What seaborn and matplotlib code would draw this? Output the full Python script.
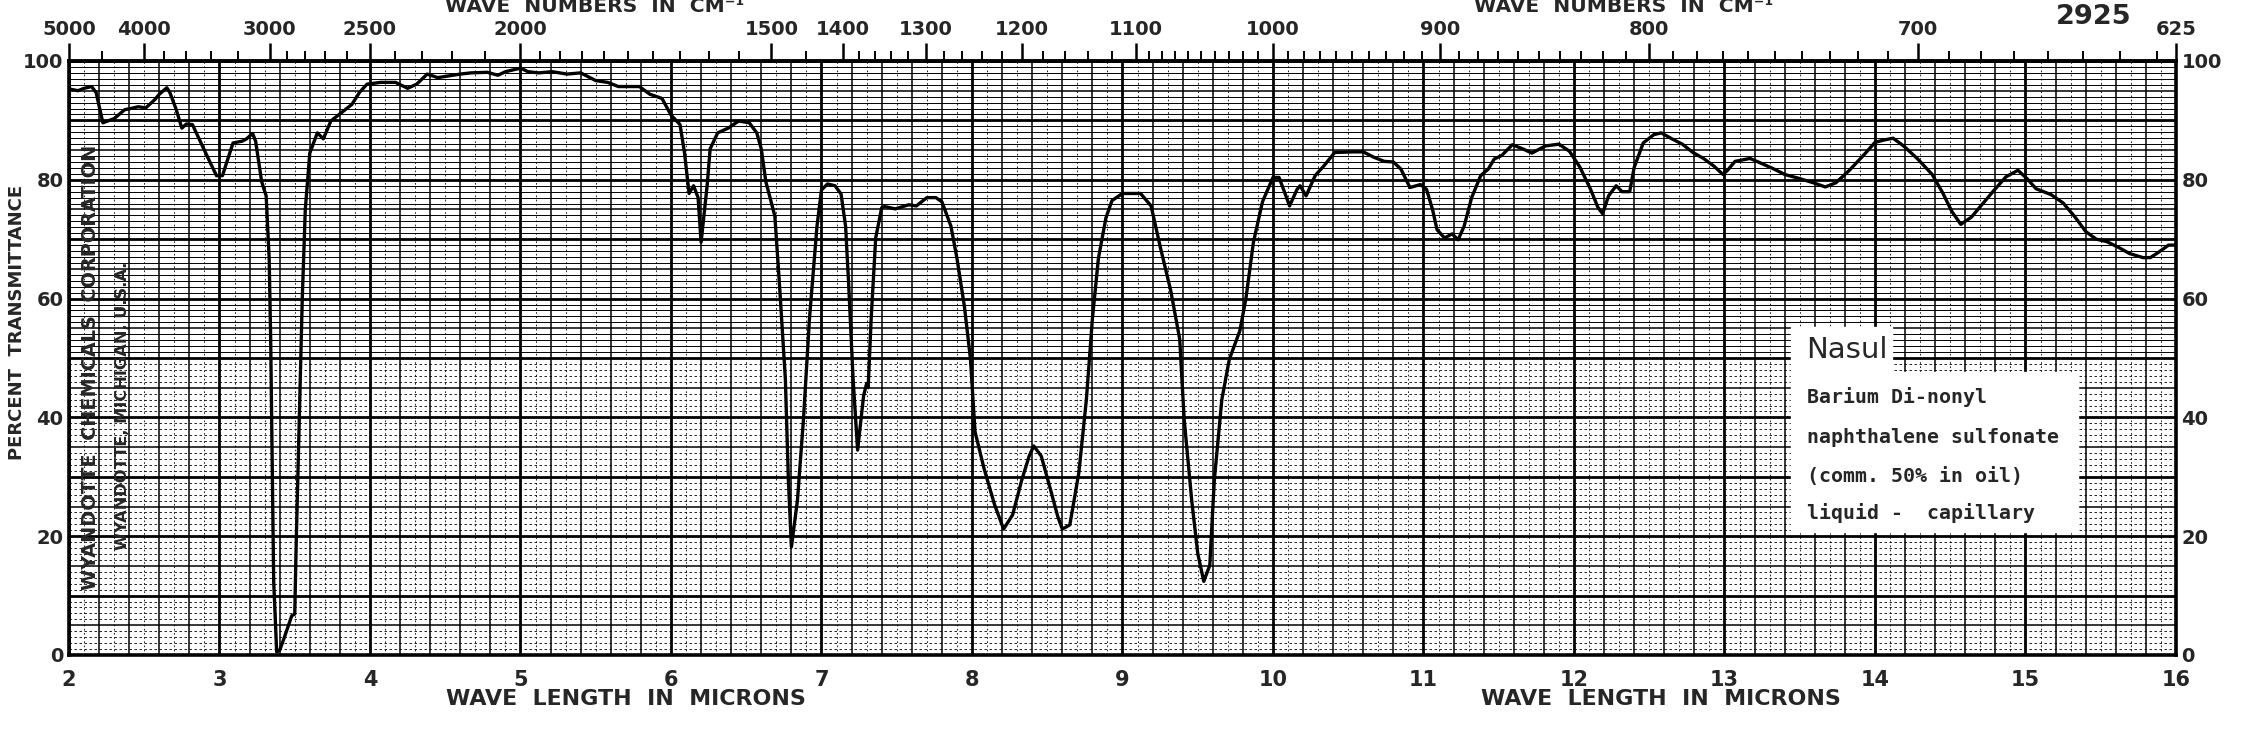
import numpy as np
import matplotlib
matplotlib.use('Agg')
import matplotlib.pyplot as plt
import matplotlib.transforms as mtransforms
import seaborn as sns

# spectrum: wavelength (microns) and percent transmittance
microns = [2.00, 2.06, 2.10, 2.15, 2.18, 2.225, 2.30, 2.37, 2.41, 2.46, 2.51, 2.57, 2.60, 2.65,
           2.67, 2.71, 2.75, 2.78, 2.82, 2.89, 2.94, 2.98, 3.02, 3.05, 3.09, 3.15, 3.18, 3.22,
           3.24, 3.28, 3.31, 3.33, 3.34, 3.35, 3.36, 3.38, 3.40, 3.43, 3.48, 3.50, 3.51, 3.53,
           3.55, 3.57, 3.60, 3.65, 3.69, 3.74, 3.81, 3.88, 3.93, 3.98, 4.07, 4.17, 4.25, 4.31,
           4.38, 4.45, 4.50, 4.60, 4.67, 4.78, 4.85, 4.90, 4.95, 5.00, 5.05, 5.12, 5.21, 5.31,
           5.40, 5.50, 5.58, 5.65, 5.79, 5.86, 5.94, 6.00, 6.06, 6.09, 6.12, 6.15, 6.18, 6.20,
           6.24, 6.26, 6.31, 6.38, 6.45, 6.52, 6.57, 6.60, 6.63, 6.69, 6.72, 6.76, 6.78, 6.80,
           6.84, 6.88, 6.92, 6.97, 7.00, 7.04, 7.09, 7.13, 7.16, 7.18, 7.21, 7.24, 7.28, 7.30,
           7.31, 7.33, 7.36, 7.40, 7.42, 7.49, 7.58, 7.63, 7.70, 7.76, 7.80, 7.86, 7.90, 7.95,
           7.99, 8.02, 8.08, 8.15, 8.21, 8.27, 8.33, 8.38, 8.41, 8.46, 8.52, 8.57, 8.60, 8.65,
           8.71, 8.76, 8.80, 8.84, 8.89, 8.93, 9.00, 9.12, 9.19, 9.25, 9.32, 9.38, 9.41, 9.46,
           9.50, 9.54, 9.58, 9.61, 9.66, 9.71, 9.78, 9.82, 9.87, 9.93, 10.00, 10.04, 10.08,
           10.11, 10.16, 10.18, 10.22, 10.28, 10.34, 10.41, 10.53, 10.60, 10.67, 10.74, 10.80,
           10.85, 10.91, 10.98, 11.02, 11.06, 11.09, 11.14, 11.19, 11.23, 11.27, 11.32, 11.38,
           11.43, 11.47, 11.52, 11.59, 11.66, 11.72, 11.81, 11.90, 11.97, 12.04, 12.11, 12.16,
           12.19, 12.23, 12.28, 12.32, 12.37, 12.40, 12.46, 12.53, 12.58, 12.65, 12.72, 12.79,
           12.86, 12.93, 12.99, 13.02, 13.07, 13.17, 13.26, 13.33, 13.40, 13.50, 13.59, 13.67,
           13.74, 13.83, 13.93, 14.00, 14.06, 14.12, 14.19, 14.28, 14.38, 14.45, 14.51, 14.57,
           14.64, 14.71, 14.79, 14.87, 14.95, 15.01, 15.07, 15.17, 15.25, 15.33, 15.40, 15.47,
           15.54, 15.62, 15.69, 15.78, 15.83, 15.89, 15.95, 16.00]
transmittance = [95.3, 95.0, 95.4, 95.7, 94.7, 89.6, 90.3, 91.8, 92.0, 92.3, 92.1, 93.5, 94.4, 95.5,
                 94.7, 92.0, 88.7, 89.4, 89.3, 85.5, 82.8, 80.7, 80.7, 83.1, 86.2, 86.5, 86.9, 87.8,
                 86.5, 79.7, 77.3, 66.8, 53.2, 32.8, 12.4, 0.5, 0.8, 2.9, 6.6, 6.9, 19.2, 39.6,
                 60.0, 75.0, 84.5, 87.9, 86.9, 89.9, 91.3, 92.7, 94.7, 96.1, 96.4, 96.4, 95.4, 96.1,
                 97.8, 97.2, 97.4, 97.8, 98.0, 98.1, 97.6, 98.2, 98.5, 98.8, 98.2, 98.0, 98.2, 97.8,
                 98.0, 96.7, 96.4, 95.7, 95.7, 94.4, 93.7, 90.9, 89.3, 84.5, 77.7, 79.0, 77.0, 69.5,
                 79.0, 85.2, 87.9, 88.7, 89.9, 89.6, 87.9, 85.2, 79.7, 73.9, 62.7, 46.4, 29.4, 18.2,
                 26.0, 39.6, 56.6, 72.2, 78.3, 79.3, 79.0, 77.6, 72.2, 62.7, 46.4, 34.5, 43.7, 45.7,
                 45.0, 56.6, 70.2, 75.3, 75.5, 75.1, 75.8, 75.6, 77.0, 77.0, 76.3, 72.2, 66.8, 58.6,
                 49.8, 37.6, 31.4, 25.3, 21.2, 23.6, 29.4, 33.5, 35.2, 33.5, 28.0, 23.3, 21.2, 21.9,
                 30.7, 43.0, 56.6, 66.8, 73.6, 76.5, 77.7, 77.7, 75.6, 68.8, 61.4, 53.2, 39.6, 26.0,
                 17.1, 12.4, 15.1, 29.4, 43.0, 49.8, 54.6, 60.0, 69.5, 76.3, 80.4, 80.4, 77.7,
                 75.6, 78.4, 79.0, 77.3, 80.7, 82.4, 84.6, 84.7, 84.7, 83.8, 83.1, 83.0,
                 81.8, 78.7, 79.2, 78.4, 75.0, 71.6, 70.2, 70.9, 69.9, 72.2, 77.0, 80.7,
                 81.8, 83.5, 84.1, 85.9, 85.2, 84.5, 85.7, 86.0, 84.8, 82.1, 78.4, 75.3,
                 74.3, 77.3, 79.0, 78.0, 78.0, 82.1, 86.2, 87.6, 87.9, 86.9, 86.0, 84.6,
                 83.6, 82.3, 80.9, 81.6, 83.1, 83.6, 82.6, 81.8, 80.9, 80.2, 79.5, 78.8,
                 79.5, 81.6, 84.3, 86.3, 86.7, 87.0, 85.7, 83.6, 80.9, 77.8, 74.7, 72.5,
                 73.7, 75.8, 78.2, 80.5, 81.6, 80.2, 78.5, 77.5, 76.1, 73.7, 71.3, 70.0,
                 69.6, 68.6, 67.6, 66.9, 66.9, 67.9, 69.0, 69.0]

micron_ticks = list(range(2, 17))
percent_ticks = list(range(0, 101, 10))
percent_labels = ['0', '', '20', '', '40', '', '60', '', '80', '', '100']
wavenumber_major = [5000, 4000, 3000, 2500, 2000, 1500, 1400, 1300, 1200, 1100, 1000, 900, 800, 700, 625]
wavenumber_minor = ([4500, 3800, 3600, 3400, 3200, 2900, 2800, 2700, 2600, 2400, 2300, 2200, 2100]
                    + list(range(1950, 1500, -50)) + [1450]
                    + list(range(1380, 1100, -20))
                    + [w for w in range(1090, 625, -10) if w not in (1000, 900, 800, 700)])

sample_name = 'Nasul'
sample_notes = ['Barium Di-nonyl', 'naphthalene sulfonate', '(comm. 50% in oil)', 'liquid -  capillary']

sns.set_theme(style='white')
plt.rcParams['font.family'] = ['DejaVu Sans']
plt.rcParams['font.weight'] = 'bold'

W, H = 2258, 739
fig = plt.figure(figsize=(W / 100, H / 100), dpi=100)
ax = fig.add_axes([69 / W, 1 - 655 / H, (2176 - 69) / W, (655 - 61) / H])

sns.lineplot(x=microns, y=transmittance, ax=ax, color='black', linewidth=2.4,
             sort=False, estimator=None, zorder=5)

ax.set_xlim(2, 16)
ax.set_ylim(0, 100)
ax.set_xlabel('')
ax.set_ylabel('')

# chart paper grid
ax.set_xticks(micron_ticks)
ax.set_xticklabels([str(m) for m in micron_ticks])
ax.set_xticks(np.arange(2, 16.01, 0.2), minor=True)
ax.set_yticks(percent_ticks)
ax.set_yticklabels(percent_labels)
ax.set_yticks(range(0, 101, 5), minor=True)
ax.grid(which='major', color='black', linewidth=2.0)
ax.grid(which='minor', color='black', linewidth=1.1)
fine_x = [v for v in np.arange(2.1, 16, 0.2)]
ax.vlines(fine_x, 0, 100, colors='black', linewidth=0.6, linestyles=(0, (2, 3)), zorder=1)
upper = [v for v in range(51, 100) if v % 5]
lower = [v for v in range(1, 50) if v % 5]
ax.hlines(upper, 2, 16, colors='black', linewidth=0.7, zorder=1)
ax.hlines(lower, 2, 16, colors='black', linewidth=0.6, linestyles=(0, (3, 3)), zorder=1)

for s in ax.spines.values():
    s.set_color('black')
    s.set_linewidth(2.6)

ax.tick_params(which='both', length=0)
ax.tick_params(axis='x', pad=11, labelsize=15)
ax.tick_params(axis='y', pad=4, labelsize=14, labelleft=True, labelright=True)


def inv(x):
    x = np.asarray(x, dtype=float)
    with np.errstate(divide='ignore'):
        return 1e4 / x


sec = ax.secondary_xaxis('top', functions=(inv, inv))
sec.set_xticks(wavenumber_major)
sec.set_xticklabels([str(w) for w in wavenumber_major])
sec.set_xticks(wavenumber_minor, minor=True)
sec.tick_params(which='major', length=13, width=1.8, pad=3, labelsize=14, color='black')
sec.tick_params(which='minor', length=7, width=1.4, color='black')
sec.spines['top'].set_linewidth(2.6)

blend = mtransforms.blended_transform_factory(ax.transData, fig.transFigure)
texts = []
for xc in (5.49, 12.33):
    t = ax.text(xc, 1 - 6 / H, 'WAVE  NUMBERS  IN  CM⁻¹', transform=blend, ha='center', va='center',
                fontsize=15, clip_on=False)
    texts.append((t, 300, False))
for xc in (5.70, 12.58):
    t = ax.text(xc, 1 - 699 / H, 'WAVE  LENGTH  IN  MICRONS', transform=blend, ha='center', va='center',
                fontsize=17, clip_on=False)
    texts.append((t, 360, False))
t = ax.text(15.45, 1 - 17 / H, '2925', transform=blend, ha='center', va='center', fontsize=24, clip_on=False)
texts.append((t, 76, False))
t = fig.text(17 / W, 1 - 322 / H, 'PERCENT  TRANSMITTANCE', rotation=90, ha='center', va='center', fontsize=16)
texts.append((t, 275, True))
t = ax.text(2.14, 48.5, 'WYANDOTTE  CHEMICALS  CORPORATION', rotation=90, ha='center', va='center',
            fontsize=18, zorder=6)
texts.append((t, 445, True))
t = ax.text(2.355, 42, 'WYANDOTTE, MICHIGAN, U.S.A.', rotation=90, ha='center', va='center',
            fontsize=14, zorder=6)
texts.append((t, 290, True))

# pasted sample label
ax.fill([13.44, 15.35, 15.35, 14.11, 14.11, 13.44], [20.7, 20.7, 47.6, 47.6, 55.2, 55.2],
        color='white', zorder=4)
ax.text(13.54, 51.3, sample_name, ha='left', va='center', fontsize=21, fontweight='normal',
        family=['DejaVu Sans'], zorder=6)
note_y = [43.4, 36.7, 30.0, 23.9]
for s, yv in zip(sample_notes, note_y):
    t = ax.text(13.55, yv, s, ha='left', va='center', fontsize=14, fontweight='bold',
                family=['DejaVu Sans Mono'], zorder=6)
    if s.startswith('naphthalene'):
        note_ref = t

# scale a few texts to their measured widths on the chart
renderer = fig.canvas.get_renderer()
for t, target, vertical in texts:
    bb = t.get_window_extent(renderer)
    size = bb.height if vertical else bb.width
    t.set_fontsize(t.get_fontsize() * target / size)
bb = note_ref.get_window_extent(renderer)
k = 252 / bb.width
for t in ax.texts:
    if t.get_text() in sample_notes:
        t.set_fontsize(t.get_fontsize() * k)

fig.savefig('out.png', dpi=100)
